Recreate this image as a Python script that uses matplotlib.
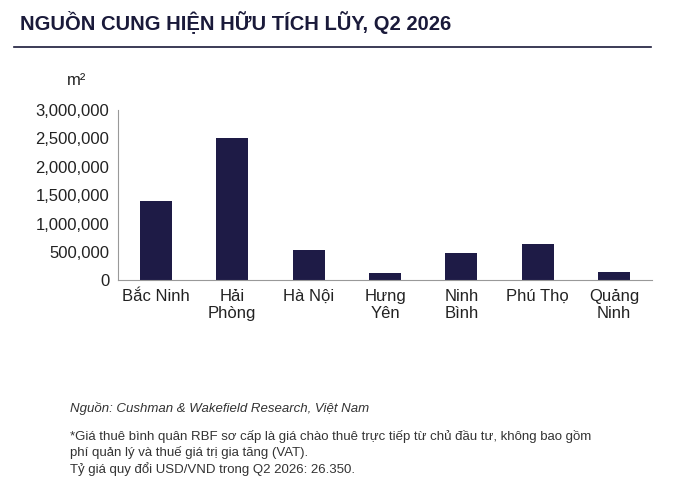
import matplotlib
matplotlib.use("Agg")
import matplotlib.pyplot as plt
from matplotlib.ticker import FuncFormatter

categories = ["Bắc Ninh", "Hải\nPhòng", "Hà Nội", "Hưng\nYên", "Ninh\nBình", "Phú Thọ", "Quảng\nNinh"]
values = [1395000, 2510000, 530000, 125000, 475000, 635000, 155000]
yticks = [0, 500000, 1000000, 1500000, 2000000, 2500000, 3000000]

plt.rcParams['font.family'] = ['Liberation Sans', 'DejaVu Sans']
fig = plt.figure(figsize=(7.0, 4.98), dpi=100)
fig.patch.set_facecolor("white")

fig.text(0.028, 0.955, "NGUỒN CUNG HIỆN HỮU TÍCH LŨY, Q2 2026", fontsize=14.5, fontweight="bold",
         color="#1a1a3a", va="center")
fig.add_artist(plt.Line2D([0.02, 0.93], [0.905, 0.905], color="#1a1a3a", lw=1.2))

ax = fig.add_axes([0.168, 0.437, 0.764, 0.342])
x = range(len(categories))
ax.bar(x, values, width=0.42, color="#1e1b46")
ax.set_ylim(0, 3000000)
ax.set_xlim(-0.5, len(categories) - 0.5)
ax.set_yticks(yticks)
ax.yaxis.set_major_formatter(FuncFormatter(lambda v, p: f"{int(v):,}"))
ax.set_xticks(list(x))
ax.set_xticklabels(categories, fontsize=12, color="#222222")
ax.tick_params(axis="y", labelsize=12, colors="#222222", length=0, pad=6)
ax.tick_params(axis="x", length=0, pad=6)
for s in ["top", "right"]:
    ax.spines[s].set_visible(False)
ax.spines["left"].set_color("#999999")
ax.spines["bottom"].set_color("#999999")
fig.text(0.095, 0.83, "m²", fontsize=12, color="#222222")

fig.text(0.1, 0.173, "Nguồn: Cushman & Wakefield Research, Việt Nam", fontsize=9.5,
         style="italic", color="#333333")
fig.text(0.1, 0.05, "*Giá thuê bình quân RBF sơ cấp là giá chào thuê trực tiếp từ chủ đầu tư, không bao gồm\n"
         "phí quản lý và thuế giá trị gia tăng (VAT).\nTỷ giá quy đổi USD/VND trong Q2 2026: 26.350.",
         fontsize=9.5, color="#333333", linespacing=1.3)

fig.savefig("out.png", dpi=100, facecolor="white")
